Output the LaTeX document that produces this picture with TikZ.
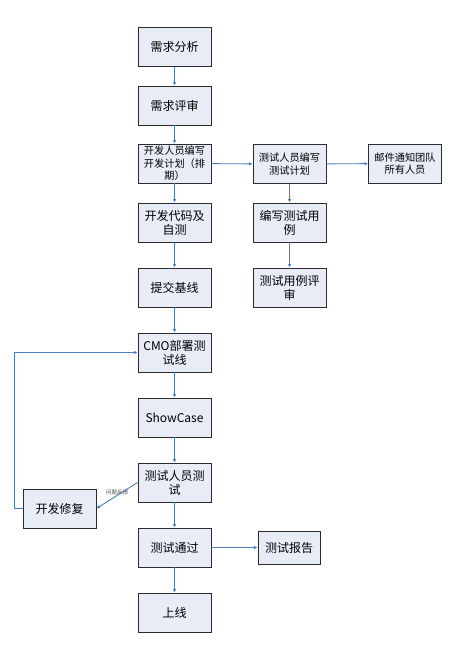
\documentclass[tikz,border=0pt]{standalone}
\usepackage{fontspec}
\setmainfont{Noto Sans CJK SC}
\usetikzlibrary{arrows.meta}

\definecolor{Flowblue}{HTML}{4A7EBB}
\definecolor{Boxfill}{HTML}{E8ECF7}
\definecolor{Boxline}{HTML}{2B2B2B}

\tikzset{
	stepbox/.style={draw=Boxline,fill=Boxfill,line width=0.9pt,
		minimum width=73pt,minimum height=39pt,align=center,inner sep=2pt,
		font=\fontsize{12}{14}\selectfont},
	smallbox/.style={stepbox,font=\fontsize{10.2}{12.5}\selectfont},
	flow/.style={draw=Flowblue,line width=0.9pt,-{Latex[length=3.5pt,width=3.5pt]}}
}

\begin{document}
\begin{tikzpicture}[x=1pt,y=-1pt]
			\useasboundingbox[fill=white] (0,0) rectangle (457,656);
			% main column
			\node[stepbox] (analyse) at (174.5,47) {需求分析};
			\node[stepbox] (review) at (174.5,105.5) {需求评审};
			\node[smallbox] (devplan) at (174.5,163.5) {开发人员编写\\开发计划（排\\期）};
			\node[stepbox] (coding) at (174.5,222.5) {开发代码及\\自测};
			\node[stepbox] (baseline) at (174.5,287.5) {提交基线};
			\node[stepbox] (cmo) at (174.5,352.5) {CMO部署测\\试线};
			\node[stepbox] (showcase) at (174.5,417.5) {ShowCase};
			\node[stepbox] (tester) at (174.5,482.5) {测试人员测\\试};
			\node[stepbox] (passed) at (174.5,547.5) {测试通过};
			\node[stepbox] (online) at (174.5,612.5) {上线};
			% test side
			\node[smallbox] (testplan) at (289.5,164) {测试人员编写\\测试计划};
			\node[smallbox] (mail) at (405,163.5) {邮件通知团队\\所有人员};
			\node[stepbox] (cases) at (289.5,222.5) {编写测试用\\例};
			\node[stepbox] (casereview) at (289.5,287.5) {测试用例评\\审};
			\node[stepbox,minimum width=62pt,minimum height=33pt] (report) at (289,547.5) {测试报告};
			% fix loop
			\node[stepbox] (fix) at (59.5,508.5) {开发修复};
			\coordinate (loopcorner) at (14,508.5);

			\foreach \a/\b in {analyse/review,review/devplan,devplan/coding,
					coding/baseline,baseline/cmo,cmo/showcase,showcase/tester,
					tester/passed,passed/online,testplan/cases,cases/casereview}{
					\draw[flow] (\a) -- (\b);}
			\draw[flow] (devplan) -- (testplan);
			\draw[flow] (testplan) -- (mail);
			\draw[flow] (passed) -- (report);
			\draw[flow] (tester.west) -- node[above=0pt,inner sep=0.5pt,
				font=\fontsize{5.5}{6}\selectfont,black!70] {问题反馈} (fix.east);
			\draw[flow] (fix.west) -- (loopcorner) |- (cmo.west);
		\end{tikzpicture}
\end{document}
